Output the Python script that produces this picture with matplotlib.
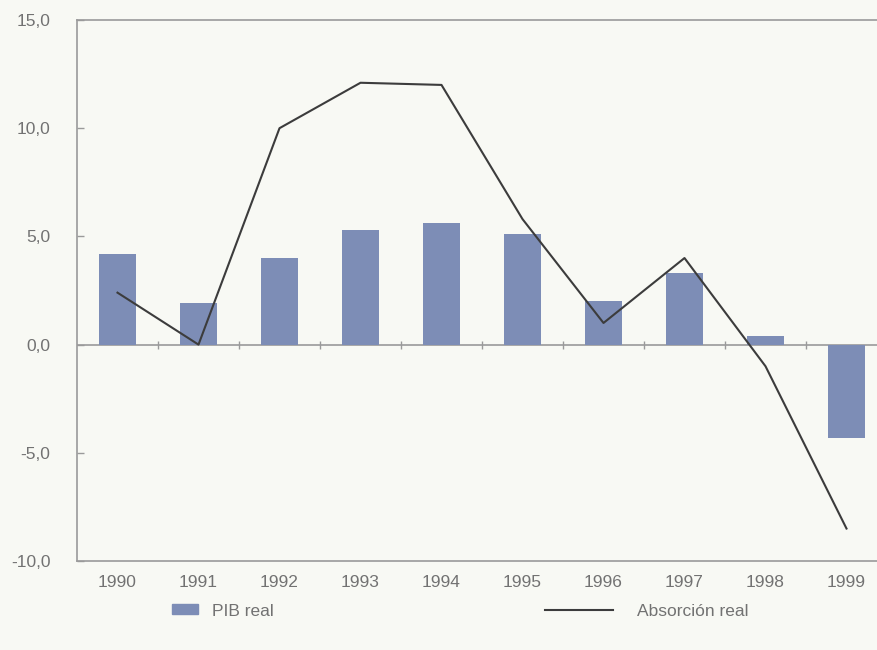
import numpy as np
import matplotlib.pyplot as plt
from matplotlib.patches import Patch
from matplotlib.lines import Line2D

plt.rcParams['font.family'] = ['Liberation Sans', 'DejaVu Sans']

years = ["1990", "1991", "1992", "1993", "1994", "1995", "1996", "1997", "1998", "1999"]
pib_real = [4.2, 1.9, 4.0, 5.3, 5.6, 5.1, 2.0, 3.3, 0.4, -4.3]
absorcion_real = [2.4, 0.0, 10.0, 12.1, 12.0, 5.8, 1.0, 4.0, -1.0, -8.5]
yticks = [-10, -5, 0, 5, 10, 15]

bg = '#f8f9f4'
bar_color = '#7d8db6'
line_color = '#3c3c3c'
axis_color = '#9a9a9a'
text_color = '#727272'

fig = plt.figure(figsize=(8.78, 6.5), dpi=100, facecolor=bg)
# axes runs a little past the right edge of the figure
ax = fig.add_axes([77 / 878, 89 / 650, 810 / 878, 541 / 650], facecolor=bg)

x = np.arange(len(years))
ax.bar(x, pib_real, width=0.45, color=bar_color, zorder=2)
ax.plot(x, absorcion_real, color=line_color, lw=1.5, zorder=3)

# zero line with small marks between the years
ax.axhline(0, color=axis_color, lw=1.2, zorder=1)
ax.plot(x[:-1] + 0.5, np.zeros(len(x) - 1), ls='none', marker='|',
        ms=6, mew=1.0, color=axis_color, zorder=1)

ax.set_xlim(-0.5, len(years) - 0.5)
ax.set_ylim(-10, 15)

ax.set_yticks(yticks)
ax.set_yticklabels([f"{v:.1f}".replace('.', ',') for v in yticks])
ax.tick_params(axis='y', direction='in', length=5, width=1, color=axis_color,
               labelsize=12.5, labelcolor=text_color, pad=19)
ax.set_xticks(x)
ax.set_xticklabels(years)
ax.tick_params(axis='x', length=0, labelsize=12.5, labelcolor=text_color, pad=10)

for side in ['left', 'top', 'bottom']:
    ax.spines[side].set_color(axis_color)
    ax.spines[side].set_linewidth(1.2)
ax.spines['right'].set_visible(False)

leg1 = fig.legend(handles=[Patch(color=bar_color, label='PIB real')],
                  loc='center left', bbox_to_anchor=(172 / 878, 1 - 611 / 650),
                  frameon=False, fontsize=12.5, handlelength=1.5, handleheight=0.5,
                  handletextpad=0.8, borderpad=0, borderaxespad=0,
                  labelcolor=text_color)
leg2 = fig.legend(handles=[Line2D([], [], color=line_color, lw=1.5, label='Absorción real')],
                  loc='center left', bbox_to_anchor=(545 / 878, 1 - 611 / 650),
                  frameon=False, fontsize=12.5, handlelength=3.9,
                  handletextpad=1.4, borderpad=0, borderaxespad=0,
                  labelcolor=text_color)

fig.savefig('out.png', dpi=100, facecolor=bg)
